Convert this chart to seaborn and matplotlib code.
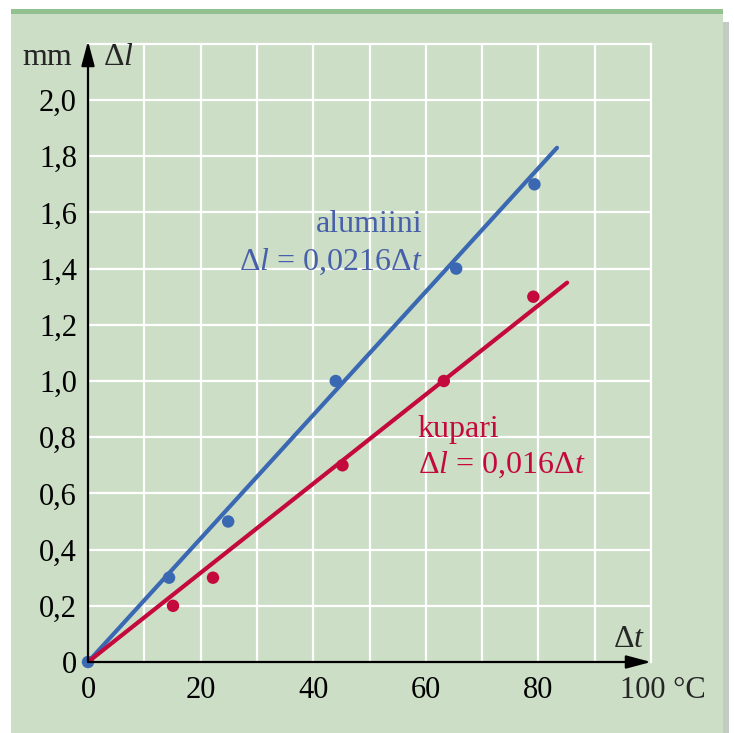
import matplotlib
matplotlib.use("Agg")
import matplotlib.pyplot as plt
import matplotlib.patches as mpatches
import matplotlib.transforms as mtransforms
import seaborn as sns

al_x = [0, 14.4, 24.9, 44.0, 65.4, 79.3]
al_y = [0, 0.3, 0.5, 1.0, 1.4, 1.7]
cu_x = [15.1, 22.2, 45.2, 63.2, 79.1]
cu_y = [0.2, 0.3, 0.7, 1.0, 1.3]

# fitted lines
al_fit_x = [0, 83.3]
al_fit_y = [0, 1.83]
cu_fit_x = [0, 85.1]
cu_fit_y = [0, 1.35]

x_ticks = [0, 20, 40, 60, 80, 100]
x_labels = ["0", "20", "40", "60", "80", ""]
y_ticks = [0, 0.2, 0.4, 0.6, 0.8, 1.0, 1.2, 1.4, 1.6, 1.8, 2.0]
y_labels = ["0", "0,2", "0,4", "0,6", "0,8", "1,0", "1,2", "1,4", "1,6", "1,8", "2,0"]

BLUE = "#3b68b2"
RED = "#c4093c"
BLUE_TXT = "#4860aa"
BG = "#cddec6"

sns.set_style("white")
plt.rcParams["font.family"] = ["Liberation Serif", "DejaVu Serif"]
plt.rcParams["mathtext.fontset"] = "custom"
plt.rcParams["mathtext.rm"] = "Liberation Serif"
plt.rcParams["mathtext.it"] = "Liberation Serif:italic"

W, H = 734, 733
fig = plt.figure(figsize=(W / 100, H / 100), dpi=100, facecolor="white")

# green panel with darker strip on top and a little shadow on the right
for rect, col in [((723, 0, 6, H - 22), "#c3cbc3"),
                  ((11, 0, 712, H - 9), BG),
                  ((11, H - 14, 712, 5), "#93c08f")]:
    x0, y0, w, h = rect
    fig.patches.append(mpatches.Rectangle((x0 / W, y0 / H), w / W, h / H, transform=fig.transFigure,
                                          facecolor=col, edgecolor="none", zorder=-10))

ax = fig.add_axes([88 / W, (H - 662) / H, (651 - 88) / W, (662 - 43.8) / H], zorder=1)
ax.set_facecolor("none")
ax.set_xlim(0, 100)
ax.set_ylim(0, 2.2)

# ticks and grid
ax.set_xticks(x_ticks)
ax.set_xticklabels(x_labels)
ax.set_xticks(list(range(10, 100, 10)), minor=True)
ax.set_yticks(y_ticks)
ax.set_yticklabels(y_labels)
ax.set_yticks([i / 10 for i in range(1, 21)], minor=True)
ax.grid(False)
for gx in range(10, 100, 10):
    ax.axvline(gx, color="white", lw=1.6, zorder=0.5)
for gy in y_ticks[1:]:
    ax.axhline(gy, color="white", lw=1.6, zorder=0.5)

tick_fs = 22
ax.tick_params(axis="both", which="major", length=0, labelsize=tick_fs, colors="black")
ax.tick_params(axis="x", which="major", pad=10)
ax.tick_params(axis="y", which="major", pad=8)
ax.tick_params(axis="both", which="minor", direction="in", length=7, width=1.3, color="black")

for side in ["left", "bottom"]:
    ax.spines[side].set_visible(False)
for side in ["top", "right"]:
    ax.spines[side].set_color("white")
    ax.spines[side].set_linewidth(1.6)

# axes with arrows
arrow = dict(arrowstyle="-|>,head_length=0.75,head_width=0.2", color="black", lw=1.6,
             shrinkA=0, shrinkB=0, mutation_scale=20)
ax.annotate("", xy=(0, 2.21), xytext=(0, 0), arrowprops=arrow, annotation_clip=False, zorder=5)
ax.annotate("", xy=(100, 0), xytext=(0, 0), arrowprops=arrow, annotation_clip=False, zorder=5)

# data
sns.scatterplot(x=al_x, y=al_y, color=BLUE, s=80, edgecolor="none", ax=ax, zorder=3, clip_on=False)
sns.scatterplot(x=cu_x, y=cu_y, color=RED, s=80, edgecolor="none", ax=ax, zorder=3)
sns.lineplot(x=al_fit_x, y=al_fit_y, color=BLUE, lw=3, ax=ax, zorder=4)
sns.lineplot(x=cu_fit_x, y=cu_fit_y, color=RED, lw=3, ax=ax, zorder=4)

# texts
fs = 23
ax.text(59.5, 1.53, "alumiini", color=BLUE_TXT, fontsize=fs, ha="right", va="baseline")
ax.text(59.5, 1.395, r"$\Delta l$ = 0,0216$\Delta t$", color=BLUE_TXT, fontsize=fs, ha="right", va="baseline")
ax.text(58.6, 0.80, "kupari", color=RED, fontsize=fs, ha="left", va="baseline")
ax.text(58.6, 0.672, r"$\Delta l$ = 0,016$\Delta t$", color=RED, fontsize=fs, ha="left", va="baseline")

ax.text(-2.8, 2.125, "mm", fontsize=fs, ha="right", va="baseline", clip_on=False)
ax.text(2.6, 2.125, r"$\Delta l$", fontsize=fs, ha="left", va="baseline", clip_on=False)
ax.text(93.2, 0.053, r"$\Delta t$", fontsize=fs, ha="left", va="baseline")
ax.text(94.5, 0, "100 °C", fontsize=tick_fs, ha="left", va="top",
        transform=ax.transData + mtransforms.ScaledTranslation(0, -10 / 72, fig.dpi_scale_trans))

fig.savefig("out.png", dpi=100, facecolor="white")
